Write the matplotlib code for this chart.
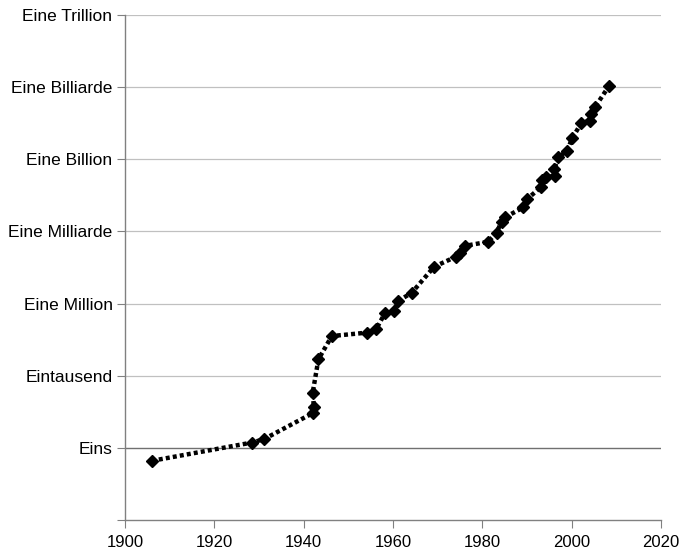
import matplotlib
matplotlib.use("Agg")
import matplotlib.pyplot as plt

years = [1906.0, 1928.4, 1931.1, 1942.0, 1942.3, 1942.0, 1943.3, 1946.3, 1954.1, 1956.2,
         1958.2, 1960.2, 1961.2, 1964.2, 1969.2, 1974.1, 1975.0, 1976.1, 1981.3, 1983.2,
         1984.3, 1985.1, 1989.2, 1990.0, 1993.1, 1993.3, 1994.2, 1996.3, 1996.1, 1997.0,
         1999.0, 2000.1, 2002.2, 2004.2, 2004.4, 2005.2, 2008.4]
log_flops = [-0.54, 0.22, 0.36, 1.44, 1.70, 2.27, 3.68, 4.65, 4.79, 4.93,
             5.60, 5.69, 6.11, 6.45, 7.53, 7.95, 8.09, 8.40, 8.57, 8.95,
             9.41, 9.59, 10.00, 10.34, 10.84, 11.14, 11.25, 11.31, 11.58, 12.08,
             12.36, 12.87, 13.52, 13.60, 13.88, 14.16, 15.06]
values = [10 ** v for v in log_flops]

ytick_vals = [1e0, 1e3, 1e6, 1e9, 1e12, 1e15, 1e18]
ytick_labels = ["Eins", "Eintausend", "Eine Million", "Eine Milliarde",
                "Eine Billion", "Eine Billiarde", "Eine Trillion"]
xticks = [1900, 1920, 1940, 1960, 1980, 2000, 2020]

plt.rcParams['font.family'] = ['Liberation Sans', 'DejaVu Sans']

fig = plt.figure(figsize=(6.84, 5.54), dpi=100)
ax = fig.add_axes([125/684, 1-520/554, (661-125)/684, (520-15)/554])

ax.set_yscale('log')
ax.set_xlim(1900, 2020)
ax.set_ylim(1e-3, 1e18)

for v in ytick_vals:
    if v == 1e0:
        ax.axhline(v, color='#707070', lw=1.0, zorder=1)
    else:
        ax.axhline(v, color='#c0c0c0', lw=0.9, zorder=1)

ax.plot(years, values, color='black', lw=3.2, linestyle=(0, (0.9, 0.7)),
        marker='D', markersize=6.5, markerfacecolor='black',
        markeredgecolor='black', zorder=3)

ax.set_yticks(ytick_vals + [1e-3])
ax.set_yticklabels(ytick_labels + [""])
ax.yaxis.set_minor_locator(matplotlib.ticker.NullLocator())
ax.set_xticks(xticks)
ax.set_xticklabels([str(x) for x in xticks])

for s in ['top', 'right']:
    ax.spines[s].set_visible(False)
for s in ['left', 'bottom']:
    ax.spines[s].set_color('#808080')
    ax.spines[s].set_linewidth(1.0)

ax.tick_params(axis='y', which='major', direction='out', length=6,
               color='#808080', labelsize=12.5, labelcolor='black', pad=3)
ax.tick_params(axis='x', which='major', direction='out', length=5.5,
               color='#808080', labelsize=12, labelcolor='black', pad=5.5)

fig.savefig("out.png", dpi=100)
